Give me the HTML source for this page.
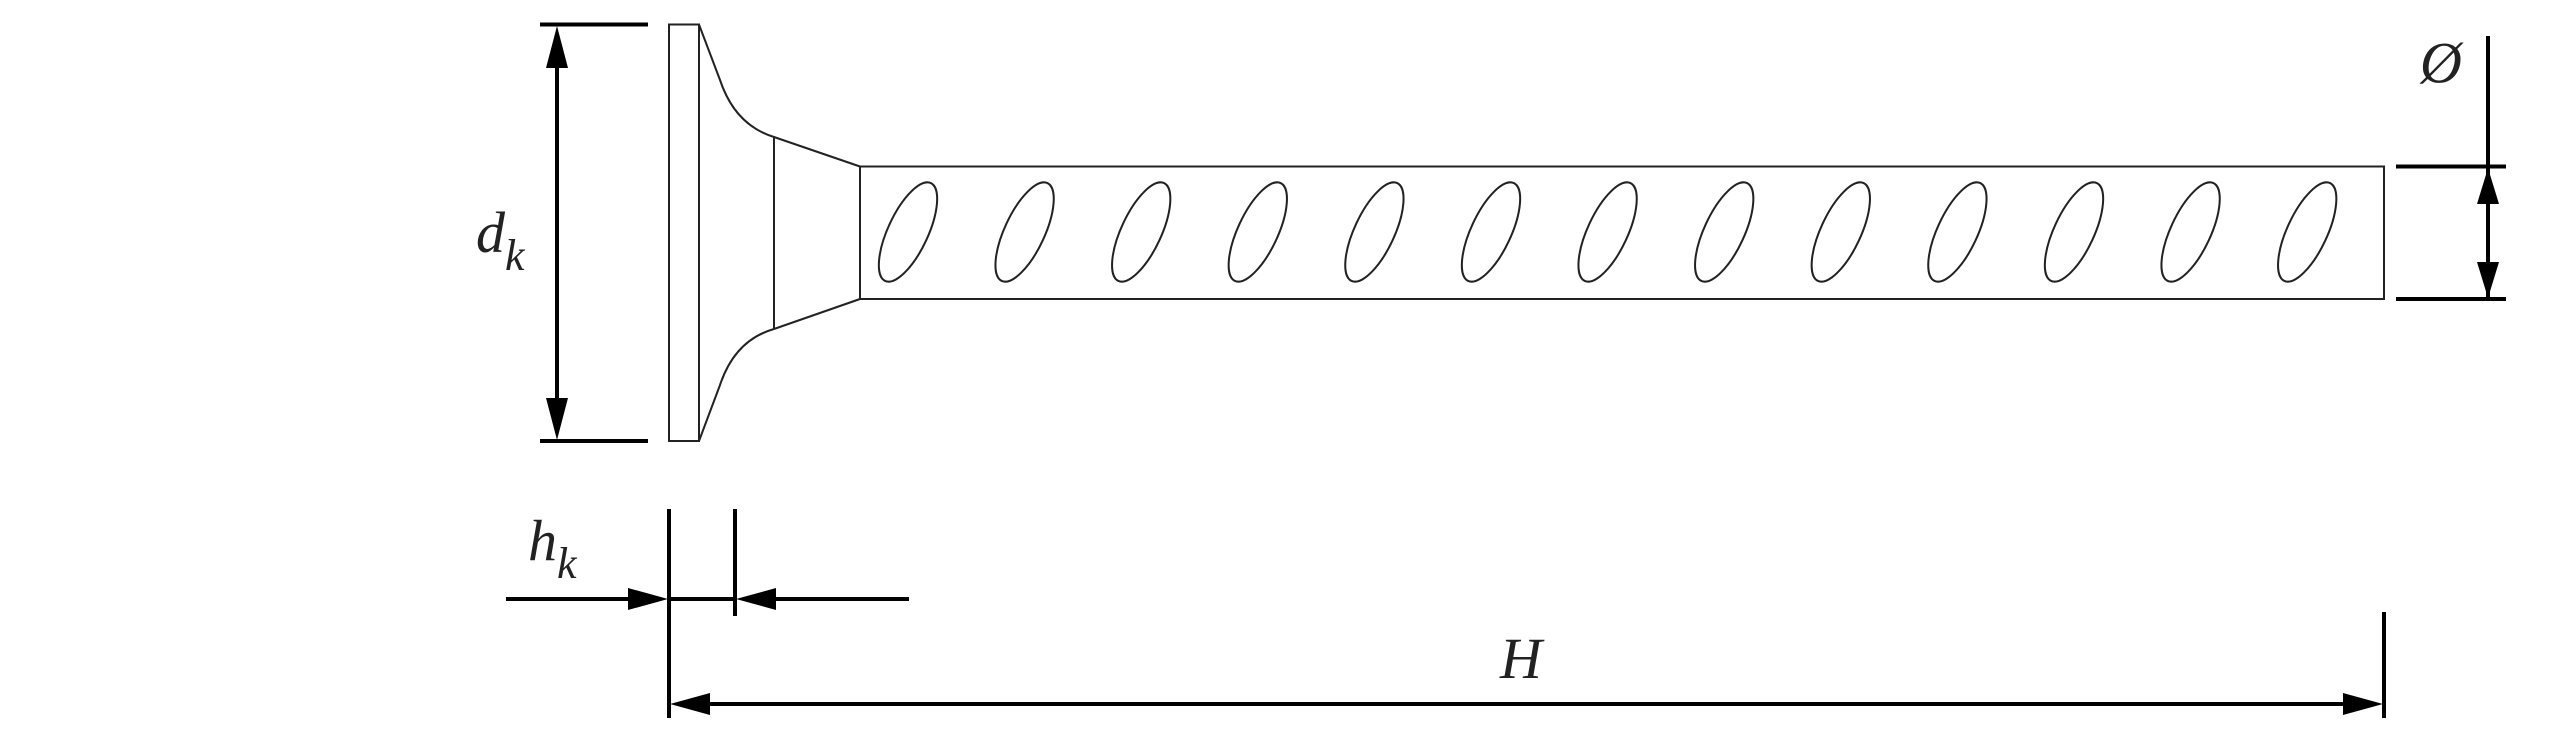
<!DOCTYPE html>
<html><head><meta charset="utf-8"><style>html,body{margin:0;padding:0;background:#fff}svg{display:block}</style></head>
<body>
<svg width="2560" height="737" viewBox="0 0 2560 737" xmlns="http://www.w3.org/2000/svg">
<g fill="none" stroke="#222" stroke-width="2">
<rect x="669" y="24.5" width="30" height="416.5"/>
<path d="M699 24.5 L720 80 Q735 125 774 137 L860 166.5"/>
<path d="M699 441 L720 385 Q735 340 774 329 L860 299"/>
<line x1="774" y1="137" x2="774" y2="329"/>
<rect x="860" y="166.5" width="1524" height="132.5"/>
<ellipse cx="908" cy="232" rx="20" ry="54" transform="rotate(25 908 232)"/>
<ellipse cx="1024.6" cy="232" rx="20" ry="54" transform="rotate(25 1024.6 232)"/>
<ellipse cx="1141.2" cy="232" rx="20" ry="54" transform="rotate(25 1141.2 232)"/>
<ellipse cx="1257.8" cy="232" rx="20" ry="54" transform="rotate(25 1257.8 232)"/>
<ellipse cx="1374.4" cy="232" rx="20" ry="54" transform="rotate(25 1374.4 232)"/>
<ellipse cx="1491" cy="232" rx="20" ry="54" transform="rotate(25 1491 232)"/>
<ellipse cx="1607.6" cy="232" rx="20" ry="54" transform="rotate(25 1607.6 232)"/>
<ellipse cx="1724.2" cy="232" rx="20" ry="54" transform="rotate(25 1724.2 232)"/>
<ellipse cx="1840.8" cy="232" rx="20" ry="54" transform="rotate(25 1840.8 232)"/>
<ellipse cx="1957.4" cy="232" rx="20" ry="54" transform="rotate(25 1957.4 232)"/>
<ellipse cx="2074" cy="232" rx="20" ry="54" transform="rotate(25 2074 232)"/>
<ellipse cx="2190.6" cy="232" rx="20" ry="54" transform="rotate(25 2190.6 232)"/>
<ellipse cx="2307.2" cy="232" rx="20" ry="54" transform="rotate(25 2307.2 232)"/>
</g>
<g stroke="#000" stroke-width="4" fill="none">
<line x1="540" y1="24.5" x2="648" y2="24.5"/>
<line x1="540" y1="441" x2="648" y2="441"/>
<line x1="557" y1="60" x2="557" y2="405"/>
<line x1="669" y1="509" x2="669" y2="718"/>
<line x1="735" y1="509" x2="735" y2="616"/>
<line x1="506" y1="599" x2="630" y2="599"/>
<line x1="669" y1="599" x2="735" y2="599"/>
<line x1="775" y1="599" x2="909" y2="599"/>
<line x1="705" y1="704" x2="2348" y2="704"/>
<line x1="2384" y1="612" x2="2384" y2="718"/>
<line x1="2488" y1="36" x2="2488" y2="299"/>
<line x1="2396" y1="166.5" x2="2506" y2="166.5"/>
<line x1="2396" y1="299" x2="2506" y2="299"/>
</g>
<g fill="#000">
<polygon points="557,26 546,68 568,68"/>
<polygon points="557,440 546,398 568,398"/>
<polygon points="668,599 628,588 628,610"/>
<polygon points="736,599 776,588 776,610"/>
<polygon points="670,704 710,693 710,715"/>
<polygon points="2383,704 2343,693 2343,715"/>
<polygon points="2488,168 2477,204 2499,204"/>
<polygon points="2488,298 2477,262 2499,262"/>
</g>
<g font-family="'Liberation Serif',serif" font-style="italic" fill="#222">
<text x="476" y="252" font-size="58">d<tspan font-size="44" dy="18">k</tspan></text>
<text x="528" y="560" font-size="58">h<tspan font-size="44" dy="18">k</tspan></text>
<text x="1500" y="678" font-size="58">H</text>
<text x="2420" y="82" font-size="58">Ø</text>
</g>
</svg>
</body></html>
